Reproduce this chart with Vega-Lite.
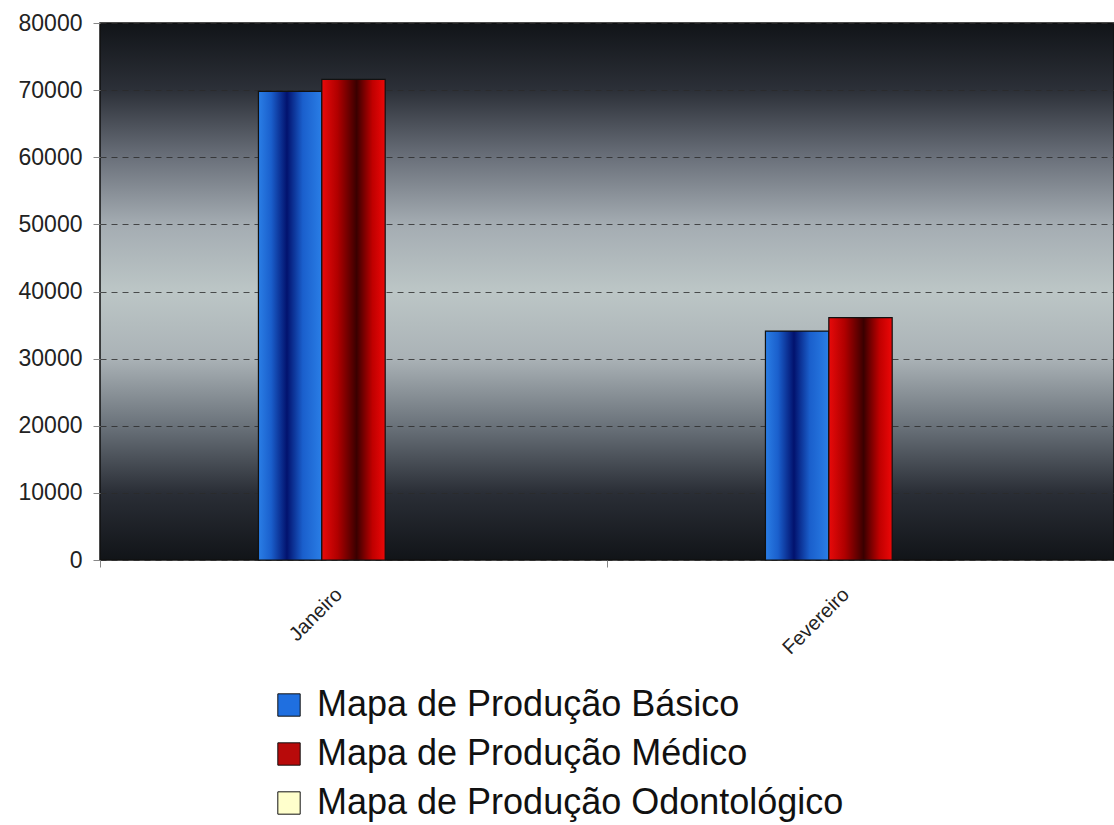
{
  "$schema": "https://vega.github.io/schema/vega-lite/v6.json",
  "autosize": {"type": "none"},
  "width": 1014,
  "height": 537,
  "padding": {"left": 100, "top": 23, "right": 0, "bottom": 265},
  "background": "white",
  "title": {"text": "Produção", "fontSize": 30, "font": "Liberation Sans", "fontWeight": "bold", "color": "#666666", "offset": 16, "dx": 25, "anchor": "middle"},
  "view": {
    "stroke": "#111111",
    "strokeWidth": 1.5,
    "fill": {
      "gradient": "linear", "x1": 0, "y1": 0, "x2": 0, "y2": 1,
      "stops": [
        {"offset": 0, "color": "#111418"},
        {"offset": 0.125, "color": "#2c3038"},
        {"offset": 0.25, "color": "#6a707a"},
        {"offset": 0.375, "color": "#a4acb2"},
        {"offset": 0.5, "color": "#bcc6c6"},
        {"offset": 0.625, "color": "#aab2b6"},
        {"offset": 0.75, "color": "#6a727a"},
        {"offset": 0.875, "color": "#2a2e36"},
        {"offset": 1, "color": "#111418"}
      ]
    }
  },
  "data": {
    "values": [
      {"mes": "Janeiro", "serie": "Mapa de Produção Básico", "valor": 69800},
      {"mes": "Janeiro", "serie": "Mapa de Produção Médico", "valor": 71600},
      {"mes": "Janeiro", "serie": "Mapa de Produção Odontológico", "valor": 0},
      {"mes": "Fevereiro", "serie": "Mapa de Produção Básico", "valor": 34100},
      {"mes": "Fevereiro", "serie": "Mapa de Produção Médico", "valor": 36100},
      {"mes": "Fevereiro", "serie": "Mapa de Produção Odontológico", "valor": 0}
    ]
  },
  "layer": [
    {
      "mark": {"type": "bar", "opacity": 0, "strokeWidth": 0},
      "encoding": {
        "x": {
          "field": "mes", "type": "nominal", "sort": ["Janeiro", "Fevereiro"],
          "scale": {"paddingInner": 0, "paddingOuter": 0},
          "axis": {
            "title": null, "labelAngle": -45, "labelFontSize": 20, "labelFont": "Liberation Sans",
            "labelColor": "#222222", "tickBand": "extent", "tickSize": 7, "tickColor": "#888888",
            "domain": false, "labelPadding": 17, "labelOffset": -22, "grid": false
          }
        },
        "y": {
          "field": "valor", "type": "quantitative",
          "scale": {"domain": [0, 80000], "nice": false},
          "axis": {
            "title": null, "values": [0, 10000, 20000, 30000, 40000, 50000, 60000, 70000, 80000], "format": "d",
            "labelFontSize": 23, "labelFont": "Liberation Sans", "labelColor": "#222222",
            "tickSize": 7, "tickColor": "#888888", "labelPadding": 11, "domain": false,
            "grid": true, "gridColor": "#2a2a2a", "gridDash": [6, 5], "gridWidth": 1, "gridOpacity": 0.8
          }
        }
      }
    },
    {
      "mark": {"type": "bar", "stroke": "#111111", "strokeWidth": 1.2},
      "encoding": {
        "x": {
          "field": "mes", "type": "nominal", "sort": ["Janeiro", "Fevereiro"],
          "scale": {"paddingInner": 0.625, "paddingOuter": 0.3125},
          "axis": null
        },
        "xOffset": {
          "field": "serie", "type": "nominal",
          "scale": {"domain": ["Mapa de Produção Básico", "Mapa de Produção Médico", "Mapa de Produção Odontológico"], "paddingInner": 0, "paddingOuter": 0}
        },
        "y": {"field": "valor", "type": "quantitative"},
        "color": {
          "condition": [
            {"test": "datum.serie === 'Mapa de Produção Básico'", "value": {
              "gradient": "linear", "x1": 0, "y1": 0, "x2": 1, "y2": 0,
              "stops": [
                {"offset": 0, "color": "#2a7ee6"},
                {"offset": 0.2, "color": "#1a5fcc"},
                {"offset": 0.45, "color": "#02126e"},
                {"offset": 0.7, "color": "#1a5fcc"},
                {"offset": 1, "color": "#2a7ee6"}
              ]}},
            {"test": "datum.serie === 'Mapa de Produção Médico'", "value": {
              "gradient": "linear", "x1": 0, "y1": 0, "x2": 1, "y2": 0,
              "stops": [
                {"offset": 0, "color": "#e80a0a"},
                {"offset": 0.25, "color": "#b00000"},
                {"offset": 0.55, "color": "#3a0000"},
                {"offset": 0.8, "color": "#c00000"},
                {"offset": 1, "color": "#ec0808"}
              ]}}
          ],
          "field": "serie", "type": "nominal",
          "scale": {
            "domain": ["Mapa de Produção Básico", "Mapa de Produção Médico", "Mapa de Produção Odontológico"],
            "range": ["#1f6fe0", "#b80a0a", "#ffffcc"]
          },
          "legend": {
            "title": null, "orient": "none", "legendX": 171, "legendY": 664,
            "symbolType": "square", "symbolSize": 500, "symbolStrokeColor": "#111111", "symbolStrokeWidth": 1,
            "labelFontSize": 36, "labelFont": "Liberation Sans", "labelColor": "#111111",
            "rowPadding": 13, "labelOffset": 10, "labelLimit": 800, "symbolOpacity": 1
          }
        }
      }
    }
  ],
  "resolve": {"scale": {"x": "independent"}, "axis": {"x": "independent"}}
}
